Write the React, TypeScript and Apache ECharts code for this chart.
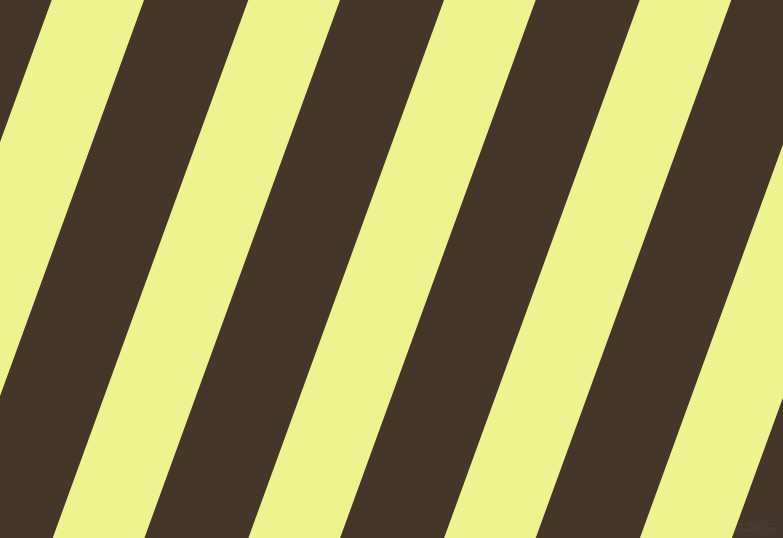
import React, { useEffect, useRef } from "react";
import * as echarts from "echarts";

// stripe edges measured along the top row (y = 0), in pixels
const stripeStarts = [-144.3, 51.7, 248.3, 444, 639.7, 835.5];
const stripeEnds = [-52.3, 144, 340, 535.7, 731.3, 927.5];
// horizontal drift of every edge over the full height
const drift = [195.6, 195.6, 195.6, 195.6, 195.6, 195.6];

const W = 783;
const H = 538;
const DARK = "#463529";
const LIGHT = "#eef28f";

const App = () => {
  const chartRef = useRef<HTMLDivElement>(null);

  useEffect(() => {
    if (!chartRef.current) return;
    const chart = echarts.init(chartRef.current, null, { renderer: "svg" });

    const data = stripeStarts.map((s, i) => [s, stripeEnds[i], drift[i]]);

    const option: echarts.EChartsCoreOption = {
      animation: false,
      backgroundColor: DARK,
      grid: { left: 0, right: 0, top: 0, bottom: 0 },
      xAxis: { type: "value", min: 0, max: W, show: false },
      yAxis: { type: "value", min: 0, max: H, inverse: true, show: false },
      series: [
        {
          type: "custom",
          clip: true,
          data,
          renderItem: (params: any, api: any) => {
            const s = api.value(0);
            const e = api.value(1);
            const d = api.value(2);
            const pts = [
              api.coord([s, 0]),
              api.coord([e, 0]),
              api.coord([e - d, H]),
              api.coord([s - d, H]),
            ];
            return {
              type: "polygon",
              shape: { points: pts },
              style: { fill: LIGHT },
            };
          },
        },
      ],
      graphic: [
        {
          type: "text",
          right: 4,
          bottom: 6,
          style: {
            text: "pixlis.com",
            font: "9px 'DejaVu Sans'",
            fill: "#2e231b",
            stroke: "#5c4b3d",
            lineWidth: 1,
          },
        },
      ],
    };

    chart.setOption(option);
    return () => chart.dispose();
  }, []);

  return (
    <div
      ref={chartRef}
      style={{ position: "fixed", left: 0, top: 0, width: W, height: H }}
    />
  );
};

export default App;
